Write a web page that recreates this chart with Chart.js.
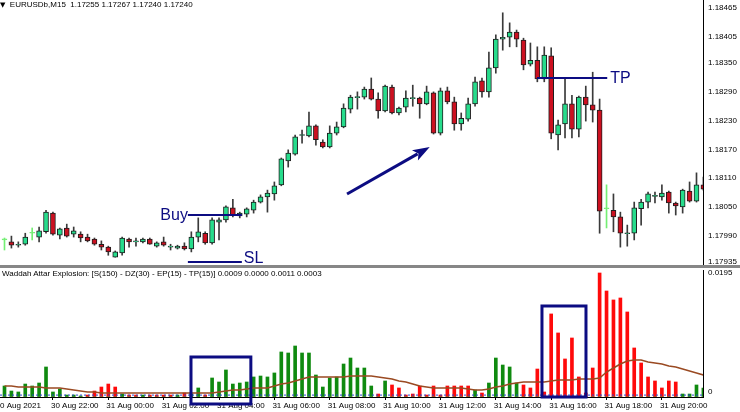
<!DOCTYPE html>
<html>
<head>
<meta charset="utf-8">
<script src="https://cdn.jsdelivr.net/npm/chart.js@4.4.0/dist/chart.umd.min.js"></script>
<style>
html,body{margin:0;padding:0;background:#fff;}
#wrap{position:relative;width:740px;height:412px;overflow:hidden;background:#fff;font-family:"Liberation Sans",Arial,sans-serif;}
#main{position:absolute;left:0;top:0;}
#ind{position:absolute;left:0;top:268px;}
#sep{position:absolute;left:0;top:265px;width:740px;height:3px;background:#878787;}
.lbl{position:absolute;font-size:8px;line-height:10px;color:#000;white-space:pre;}
.tri{font-family:"DejaVu Sans",sans-serif;font-size:7px;}
</style>
</head>
<body>
<div id="wrap">
  <canvas id="main" width="740" height="268"></canvas>
  <div id="sep"></div>
  <canvas id="ind" width="740" height="144"></canvas>
  <div class="lbl" style="left:0px;top:0px"><span class="tri">▼</span>  EURUSDb,M15  1.17255 1.17267 1.17240 1.17240</div>
  <div class="lbl" style="left:2px;top:269px">Waddah Attar Explosion: [S(150) - DZ(30) - EP(15) - TP(15)] 0.0009 0.0000 0.0011 0.0003</div>
</div>
<script>
// ---------------- DATA ----------------
const open = [
1.17981,1.17977,1.17970,1.17972,1.17995,1.17987,1.17998,1.18037,1.17991,1.18006,
1.17993,1.17993,1.17987,1.17983,1.17972,1.17966,1.17945,1.17954,1.17983,1.17977,
1.17977,1.17983,1.17968,1.17977,1.17966,1.17964,1.17968,1.17962,1.17987,1.17995,
1.17975,1.18018,1.18023,1.18048,1.18031,1.18035,1.18043,1.18060,1.18071,1.18077,
1.18096,1.18146,1.18160,1.18199,1.18198,1.18219,1.18185,1.18175,1.18204,1.18217,
1.18254,1.18278,1.18279,1.18296,1.18275,1.18250,1.18300,1.18246,1.18258,1.18276,
1.18277,1.18265,1.18288,1.18204,1.18292,1.18269,1.18223,1.18233,1.18265,1.18313,
1.18290,1.18340,1.18400,1.18404,1.18415,1.18398,1.18348,1.18356,1.18317,1.18365,
1.18200,1.18223,1.18265,1.18212,1.18279,1.18263,1.18252,1.18046,1.18043,1.18029,
1.17994,1.17995,1.18046,1.18060,1.18072,1.18071,1.18081,1.18058,1.18050,1.18083,
1.18062,1.18096];
const high = [
1.17985,1.17989,1.17977,1.17995,1.18006,1.18008,1.18043,1.18039,1.18006,1.18014,
1.18008,1.17998,1.17993,1.17985,1.17979,1.17968,1.17958,1.17987,1.17985,1.17985,
1.17985,1.17985,1.17977,1.17987,1.17972,1.17970,1.17975,1.17998,1.18027,1.17998,
1.18027,1.18027,1.18052,1.18066,1.18039,1.18048,1.18064,1.18075,1.18085,1.18102,
1.18152,1.18169,1.18200,1.18210,1.18248,1.18221,1.18190,1.18219,1.18227,1.18265,
1.18283,1.18290,1.18300,1.18319,1.18288,1.18304,1.18304,1.18258,1.18292,1.18304,
1.18279,1.18302,1.18290,1.18298,1.18300,1.18279,1.18246,1.18277,1.18321,1.18319,
1.18373,1.18409,1.18455,1.18434,1.18419,1.18402,1.18392,1.18384,1.18384,1.18382,
1.18231,1.18317,1.18283,1.18281,1.18302,1.18331,1.18275,1.18096,1.18077,1.18039,
1.18012,1.18060,1.18066,1.18081,1.18081,1.18096,1.18083,1.18060,1.18087,1.18102,
1.18121,1.18112];
const low = [
1.17960,1.17964,1.17966,1.17970,1.17981,1.17977,1.17995,1.17991,1.17983,1.17987,
1.17987,1.17977,1.17977,1.17970,1.17960,1.17949,1.17945,1.17949,1.17966,1.17968,
1.17975,1.17972,1.17966,1.17968,1.17960,1.17962,1.17960,1.17956,1.17977,1.17972,
1.17972,1.17981,1.18018,1.18029,1.18027,1.18029,1.18037,1.18058,1.18039,1.18064,
1.18094,1.18133,1.18158,1.18183,1.18196,1.18179,1.18173,1.18173,1.18200,1.18215,
1.18246,1.18254,1.18275,1.18273,1.18235,1.18248,1.18244,1.18242,1.18248,1.18260,
1.18235,1.18263,1.18202,1.18200,1.18265,1.18210,1.18210,1.18229,1.18260,1.18279,
1.18279,1.18329,1.18377,1.18384,1.18384,1.18336,1.18344,1.18311,1.18311,1.18192,
1.18169,1.18194,1.18194,1.18196,1.18229,1.18227,1.17995,1.18006,1.17998,1.17966,
1.17968,1.17981,1.18012,1.18048,1.18058,1.18064,1.18037,1.18033,1.18037,1.18060,
1.18060,1.18085];
const close = [
1.17981,1.17970,1.17971,1.17987,1.17995,1.18000,1.18039,1.17993,1.18004,1.17989,
1.18000,1.17985,1.17979,1.17972,1.17966,1.17956,1.17956,1.17985,1.17977,1.17978,
1.17983,1.17972,1.17975,1.17970,1.17967,1.17968,1.17962,1.17987,1.17998,1.17975,
1.18023,1.18023,1.18050,1.18033,1.18037,1.18046,1.18060,1.18071,1.18079,1.18094,
1.18150,1.18162,1.18196,1.18200,1.18219,1.18190,1.18175,1.18204,1.18217,1.18256,
1.18279,1.18279,1.18296,1.18275,1.18250,1.18302,1.18246,1.18256,1.18277,1.18277,
1.18265,1.18290,1.18204,1.18292,1.18269,1.18223,1.18235,1.18265,1.18311,1.18290,
1.18340,1.18400,1.18404,1.18415,1.18400,1.18346,1.18356,1.18317,1.18367,1.18204,
1.18221,1.18265,1.18212,1.18279,1.18263,1.18252,1.18041,1.18046,1.18029,1.17995,
1.17995,1.18048,1.18060,1.18077,1.18073,1.18079,1.18058,1.18052,1.18085,1.18062,
1.18096,1.18087];

// Waddah Attar Explosion buffers
const waeUp = [
0.00173,0.00094,0.00079,0.00204,0.00173,0.00220,0.00472,0.00079,0.00126,0.00031,
0.00031,0.00016,0,0,0,0,0,0.00047,0,0,
0.00031,0,0,0,0,0.00031,0,0.00047,0.00142,0,
0.00299,0.00236,0.00425,0.00204,0.00220,0.00236,0.00315,0.00330,0.00315,0.00378,
0.00708,0.00692,0.00802,0.00692,0.00692,0.00346,0.00157,0.00299,0.00315,0.00519,
0.00613,0.00456,0.00456,0.00173,0,0.00252,0,0,0,0,
0,0,0,0,0,0,0,0,0.00110,0,
0.00220,0.00613,0.00503,0.00472,0.00220,0,0,0,0,0,
0,0,0,0,0,0,0,0,0,0,
0,0,0,0,0,0,0,0,0.00047,0.00047,
0.00189,0.00142];
const waeDown = [
0,0,0,0,0,0,0,0,0,0,
0,0,0.00031,0.00094,0.00157,0.00204,0.00157,0,0.00031,0.00031,
0,0.00031,0.00031,0.00031,0.00031,0,0.00063,0,0,0.00031,
0,0,0,0,0,0,0,0,0,0,
0,0,0,0,0,0,0,0,0,0,
0,0,0,0,0.00047,0,0.00189,0.00142,0.00031,0.00047,
0.00173,0.00031,0.00173,0.00031,0.00173,0.00173,0.00173,0.00173,0,0.00063,
0,0,0,0,0,0.00189,0.00142,0.00440,0.00079,0.01306,
0.01007,0.00598,0.00928,0.00315,0.00063,0.00456,0.01950,0.01667,0.01526,0.01557,
0.01337,0.00771,0.00535,0.00315,0.00252,0.00142,0.00252,0.00236,0,0,
0,0];
const explosion = [
0.00173,0.00173,0.00157,0.00157,0.00157,0.00157,0.00142,0.00142,0.00142,0.00126,
0.00110,0.00094,0.00079,0.00079,0.00063,0.00063,0.00063,0.00063,0.00063,0.00063,
0.00063,0.00063,0.00063,0.00063,0.00063,0.00063,0.00063,0.00063,0.00063,0.00063,
0.00063,0.00079,0.00094,0.00110,0.00110,0.00126,0.00142,0.00142,0.00142,0.00173,
0.00204,0.00220,0.00252,0.00283,0.00315,0.00315,0.00315,0.00315,0.00315,0.00315,
0.00330,0.00330,0.00330,0.00330,0.00315,0.00299,0.00283,0.00252,0.00236,0.00204,
0.00173,0.00157,0.00142,0.00142,0.00142,0.00142,0.00142,0.00126,0.00110,0.00110,
0.00126,0.00157,0.00173,0.00204,0.00220,0.00236,0.00236,0.00236,0.00236,0.00252,
0.00267,0.00267,0.00267,0.00283,0.00283,0.00283,0.00299,0.00393,0.00456,0.00519,
0.00566,0.00582,0.00582,0.00551,0.00535,0.00519,0.00488,0.00472,0.00440,0.00409,
0.00378,0.00346];
const deadZone = 0.0003;

const priceTicks = [1.18465,1.18405,1.18350,1.18290,1.18230,1.18170,1.18110,1.18050,1.17990,1.17935];
const waeTicks = [0, 0.0195];
const timeTickBars = [-1,7,15,23,31,39,47,55,63,71,79,87,95];
const timeLabels = ['30 Aug 2021','30 Aug 22:00','31 Aug 00:00','31 Aug 02:00','31 Aug 04:00','31 Aug 06:00',
  '31 Aug 08:00','31 Aug 10:00','31 Aug 12:00','31 Aug 14:00','31 Aug 16:00','31 Aug 18:00','31 Aug 20:00'];

// drawn objects (bar index / price coordinates)
const levels = [
  {label:'Buy', fromBar:26.5, toBar:34.3, price:1.18033, side:'left'},
  {label:'SL',  fromBar:26.5, toBar:34.3, price:1.17935, side:'right'},
  {label:'TP',  fromBar:76.95, toBar:87.1, price:1.18319, side:'right'}
];
const trendArrow = {fromBar:49.5, fromPrice:1.18077, toBar:61.45, toPrice:1.18175};
const waeBoxes = [
  {fromBar:26.95, toBar:35.6, top:0.00629, bottom:-0.0011},
  {fromBar:77.67, toBar:84.03, top:0.01431, bottom:0}
];

// ---------------- STYLE ----------------
const FONT = '"Liberation Sans", Arial, sans-serif';
const NAVY = '#0c0c82';
const BULL = '#27dc8c', BEAR = '#cc1020', DOJI = '#74ee74', OUTLINE = '#1e1e1e', WICK = '#3a3a3a';
const X_MIN = -0.65, X_MAX = 100.94;
const P_MAX = 1.184817, P_MIN = 1.179287;
const W_MAX = 0.01997, W_MIN = 0;

Chart.defaults.font.family = FONT;
Chart.defaults.font.size = 8;
Chart.defaults.color = '#000';
Chart.defaults.animation = false;

const idx = open.map((_, i) => i);
const isDoji = i => open[i] === close[i];

function fixAxis(width) {
  return function(scale) {
    if (width) scale.width = width;
    scale.paddingTop = 0; scale.paddingBottom = 0;
    scale.paddingLeft = 0; scale.paddingRight = 0;
  };
}

const mainAnnotations = {
  id: 'mainAnnotations',
  afterDatasetsDraw(chart) {
    const {ctx, chartArea: a, scales: {x, y}} = chart;
    ctx.save();
    ctx.beginPath();
    ctx.rect(a.left, a.top, a.right - a.left, a.bottom - a.top);
    ctx.clip();
    ctx.strokeStyle = NAVY; ctx.fillStyle = NAVY;
    ctx.font = '16px ' + FONT;
    ctx.textBaseline = 'alphabetic';
    levels.forEach(l => {
      const x0 = x.getPixelForValue(l.fromBar), x1 = x.getPixelForValue(l.toBar), py = y.getPixelForValue(l.price);
      ctx.lineWidth = 2;
      ctx.beginPath(); ctx.moveTo(x0, py); ctx.lineTo(x1, py); ctx.stroke();
      if (l.side === 'left') { ctx.textAlign = 'right'; ctx.fillText(l.label, x0, py + 5); }
      else if (l.label === 'SL') { ctx.textAlign = 'left'; ctx.fillText(l.label, x1 + 2, py + 1.5); }
      else { ctx.textAlign = 'left'; ctx.fillText(l.label, x1 + 3, py + 5); }
    });
    const ax0 = x.getPixelForValue(trendArrow.fromBar), ay0 = y.getPixelForValue(trendArrow.fromPrice);
    const ax1 = x.getPixelForValue(trendArrow.toBar), ay1 = y.getPixelForValue(trendArrow.toPrice);
    const ang = Math.atan2(ay1 - ay0, ax1 - ax0);
    const hl = 17, hw = 6;
    const bx = ax1 - hl * Math.cos(ang), by = ay1 - hl * Math.sin(ang);
    ctx.lineWidth = 3;
    ctx.beginPath(); ctx.moveTo(ax0, ay0); ctx.lineTo(bx + 3 * Math.cos(ang), by + 3 * Math.sin(ang)); ctx.stroke();
    ctx.beginPath();
    ctx.moveTo(ax1, ay1);
    ctx.lineTo(bx + hw * Math.sin(ang), by - hw * Math.cos(ang));
    ctx.lineTo(bx + 4 * Math.cos(ang), by + 4 * Math.sin(ang));
    ctx.lineTo(bx - hw * Math.sin(ang), by + hw * Math.cos(ang));
    ctx.closePath(); ctx.fill();
    ctx.restore();
  }
};

const indAnnotations = {
  id: 'indAnnotations',
  afterDatasetsDraw(chart) {
    const {ctx, scales: {x, y}} = chart;
    ctx.save();
    ctx.strokeStyle = NAVY; ctx.lineWidth = 3;
    waeBoxes.forEach(b => {
      const l = x.getPixelForValue(b.fromBar), r = x.getPixelForValue(b.toBar);
      const t = y.getPixelForValue(b.top), btm = y.getPixelForValue(b.bottom);
      ctx.strokeRect(l, t, r - l, btm - t);
    });
    ctx.restore();
  }
};

new Chart(document.getElementById('main'), {
  type: 'bar',
  data: {
    datasets: [
      {
        label: 'body', order: 0, grouped: false, barThickness: 5, minBarLength: 1,
        borderWidth: 1, borderSkipped: false,
        data: idx.map(i => ({x: i, y: [open[i], close[i]]})),
        backgroundColor: c => isDoji(c.dataIndex) ? DOJI : (close[c.dataIndex] > open[c.dataIndex] ? BULL : BEAR),
        borderColor: c => isDoji(c.dataIndex) ? DOJI : OUTLINE
      },
      {
        label: 'wick', order: 1, grouped: false, barThickness: 1, borderWidth: 0,
        data: idx.map(i => ({x: i, y: [low[i], high[i]]})),
        backgroundColor: c => isDoji(c.dataIndex) ? DOJI : WICK
      }
    ]
  },
  options: {
    responsive: false, maintainAspectRatio: false, events: [],
    layout: {padding: {top: 0, left: 0, right: 0, bottom: 3}},
    plugins: {legend: {display: false}, tooltip: {enabled: false}},
    scales: {
      x: {type: 'linear', min: X_MIN, max: X_MAX, offset: false, grace: 0, display: false},
      y: {
        type: 'linear', position: 'right', min: P_MIN, max: P_MAX,
        afterBuildTicks: s => { s.ticks = priceTicks.map(v => ({value: v})); },
        afterFit: fixAxis(37),
        grid: {display: true, drawOnChartArea: false, drawTicks: false},
        border: {display: true, color: '#000', width: 1},
        ticks: {padding: 5, font: {size: 8}, color: '#000', callback: v => v.toFixed(5)}
      }
    }
  },
  plugins: [mainAnnotations]
});

new Chart(document.getElementById('ind'), {
  type: 'bar',
  data: {
    datasets: [
      {type: 'line', label: 'explosion', order: 0, data: idx.map(i => ({x: i, y: explosion[i]})),
        borderColor: '#9a4a22', borderWidth: 1.5, pointRadius: 0, tension: 0, fill: false},
      {type: 'line', label: 'deadzone', order: 1, data: [{x: X_MIN, y: deadZone}, {x: X_MAX, y: deadZone}],
        borderColor: '#2a45d0', borderWidth: 1, borderDash: [2, 2], pointRadius: 0, fill: false},
      {label: 'up', order: 2, grouped: false, barThickness: 3, borderWidth: 0,
        data: idx.map(i => ({x: i, y: waeUp[i]})), backgroundColor: '#0f8a0f'},
      {label: 'down', order: 3, grouped: false, barThickness: 3, borderWidth: 0,
        data: idx.map(i => ({x: i, y: waeDown[i]})), backgroundColor: '#ff0a0a'}
    ]
  },
  options: {
    responsive: false, maintainAspectRatio: false, events: [],
    layout: {padding: {top: 2, left: 0, right: 0, bottom: 0}},
    plugins: {legend: {display: false}, tooltip: {enabled: false}},
    scales: {
      x: {
        type: 'linear', min: X_MIN, max: X_MAX, offset: false, position: 'bottom',
        afterBuildTicks: s => { s.ticks = timeTickBars.map(v => ({value: v})); },
        afterFit: s => { s.height = 15; s.paddingLeft = 0; s.paddingRight = 0; },
        grid: {display: true, offset: false, drawOnChartArea: false, drawTicks: true, tickLength: 3, color: '#000'},
        border: {display: true, color: '#000', width: 1},
        ticks: {autoSkip: false, maxRotation: 0, minRotation: 0, align: 'start', padding: 1, labelOffset: -2,
          font: {size: 8}, color: '#000', callback: v => timeLabels[timeTickBars.indexOf(v)]}
      },
      y: {
        type: 'linear', position: 'right', min: W_MIN, max: W_MAX,
        afterBuildTicks: s => { s.ticks = waeTicks.map(v => ({value: v})); },
        afterFit: fixAxis(37),
        grid: {display: true, drawOnChartArea: false, drawTicks: false},
        border: {display: true, color: '#000', width: 1},
        ticks: {padding: 5, font: {size: 8}, color: '#000',
          callback: v => v === 0 ? ['0', ''] : v.toFixed(4)}
      }
    }
  },
  plugins: [indAnnotations]
});
</script>
</body>
</html>
